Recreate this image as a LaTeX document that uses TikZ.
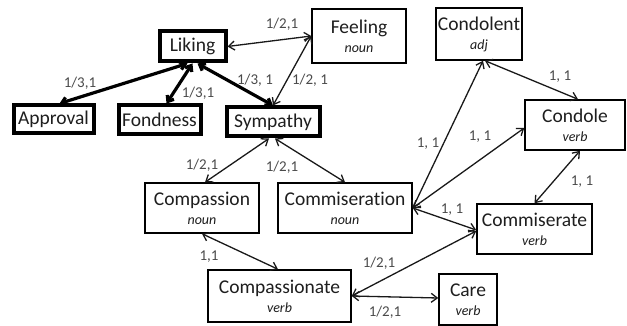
\documentclass[tikz,border=0pt]{standalone}
\usepackage{fontspec}
\setmainfont[Ligatures={NoCommon,NoRequired,NoContextual}]{Carlito}
\usetikzlibrary{arrows.meta,shadows,calc}
\definecolor{txt}{HTML}{1E1E1E}
\definecolor{lbl}{HTML}{4A4A4A}
\newcommand{\pos}[1]{{\fontsize{14}{15}\selectfont\itshape #1}}
\tikzset{
  box/.style={draw=black, line width=1.5pt, fill=white, text=txt, align=center,
    font=\fontsize{19.5}{22}\selectfont, inner sep=0pt,
    drop shadow={shadow xshift=1.2pt, shadow yshift=-1.2pt, fill=black!45, opacity=.5}},
  tbox/.style={box, line width=4pt},
  lab/.style={text=lbl, font=\fontsize{15}{17}\selectfont, inner sep=0pt},
  link/.style={draw=black!90, line width=1.3pt, {Straight Barb[length=6pt,width=9pt]}-{Straight Barb[length=6pt,width=9pt]}},
  tlink/.style={draw=black, line width=3.2pt, {Straight Barb[length=5pt,width=8pt]}-{Straight Barb[length=5pt,width=8pt]}},
}
\begin{document}
\begin{tikzpicture}[x=1pt,y=-1pt]
\useasboundingbox (0,0) rectangle (627,326);
% nodes
\node[tbox, minimum width=66pt, minimum height=30pt] (lik) at (192.5,46.5) {Liking};
\node[tbox, minimum width=80pt, minimum height=28pt] (app) at (53.5,119.5) {Approval};
\node[tbox, minimum width=82pt, minimum height=29pt] (fon) at (159.5,120) {Fondness};
\node[tbox, minimum width=93pt, minimum height=29pt] (sym) at (273,122) {Sympathy};
\node[box, minimum width=94pt, minimum height=54pt] (fee) at (359,36) {Feeling\\[-3pt]\pos{noun}};
\node[box, minimum width=86pt, minimum height=52pt] (cdt) at (479,34) {Condolent\\[-3pt]\pos{adj}};
\node[box, minimum width=100pt, minimum height=50pt] (cdl) at (575,125) {Condole\\[-3pt]\pos{verb}};
\node[box, minimum width=114pt, minimum height=50pt] (cps) at (202,208) {Compassion\\[-3pt]\pos{noun}};
\node[box, minimum width=134pt, minimum height=50pt] (cms) at (345,208) {Commiseration\\[-3pt]\pos{noun}};
\node[box, minimum width=143pt, minimum height=52pt] (cpn) at (279.5,296) {Compassionate\\[-3pt]\pos{verb}};
\node[box, minimum width=115pt, minimum height=50pt] (cmr) at (534.5,229) {Commiserate\\[-3pt]\pos{verb}};
\node[box, minimum width=58pt, minimum height=51pt] (car) at (468,299.5) {Care\\[-3pt]\pos{verb}};
% connectors
\draw[link] (lik.east) -- (fee.west);
\draw[link] (sym.north) -- (fee.west);
\draw[tlink] ([xshift=-5pt]lik.south) -- ([xshift=6pt]app.north);
\draw[tlink] (lik.south) -- ([xshift=7pt]fon.north);
\draw[tlink] ([xshift=5pt]lik.south) -- (sym.north);
\draw[link] ([xshift=-4pt]sym.south) -- ([xshift=3pt]cps.north);
\draw[link] ([xshift=2pt]sym.south) -- (cms.north);
\draw[link] (cms.east) -- ([xshift=4pt]cdt.south);
\draw[link] (cms.east) -- ([yshift=-3pt]cdl.west);
\draw[link] ([xshift=6pt]cdt.south) -- ([xshift=3pt]cdl.north);
\draw[link] ([xshift=5pt]cdl.south) -- (cmr.north);
\draw[link] (cms.east) -- ([yshift=-1pt]cmr.west);
\draw[link] (cps.south) -- ([xshift=-1.5pt]cpn.north);
\draw[link] (cpn.east) -- ([yshift=-2pt]cmr.west);
\draw[link] (cpn.east) -- ([yshift=1.5pt]car.west);
% labels
\node[lab] (l1) at (282,24) {1/2,1};
\node[lab] (l2) at (310,80) {1/2, 1};
\node[lab] (l3) at (80,83) {1/3,1};
\node[lab] (l4) at (198,93) {1/3,1};
\node[lab] (l5) at (255,80) {1/3, 1};
\node[lab] (l6) at (202,165) {1/2,1};
\node[lab] (l7) at (282,167) {1/2,1};
\node[lab] (l8) at (428,144) {1, 1};
\node[lab] (l9) at (480,137) {1, 1};
\node[lab] (l10) at (560,77) {1, 1};
\node[lab] (l11) at (582,182) {1, 1};
\node[lab] (l12) at (452,210) {1, 1};
\node[lab] (l13) at (209,257) {1,1};
\node[lab] (l14) at (379,263) {1/2,1};
\node[lab] (l15) at (385,312) {1/2,1};
\end{tikzpicture}
\end{document}
